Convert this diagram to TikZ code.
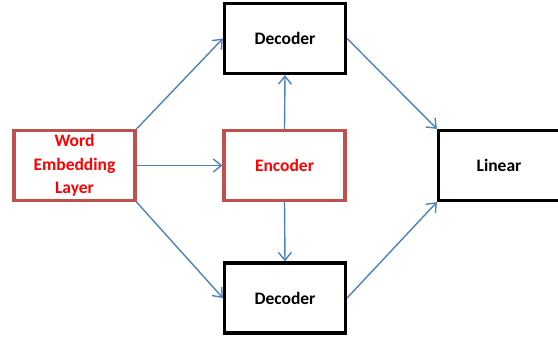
\documentclass[tikz,border=0pt]{standalone}
\usepackage{fontspec}
\setmainfont{Carlito}
\usepackage{tikz}
\usetikzlibrary{arrows.meta}

\definecolor{boxred}{RGB}{192,80,77}
\definecolor{arrowblue}{RGB}{79,129,189}

\begin{document}
\begin{tikzpicture}[x=1pt, y=-1pt,
  block/.style={draw, line width=3.2pt, minimum width=121pt, minimum height=70pt, inner sep=0pt, align=center, font=\fontsize{17.5}{23.5}\selectfont\bfseries},
  redblock/.style={block, draw=boxred, text=red},
  link/.style={arrowblue, line width=1.4pt, -{Straight Barb[length=8pt, width=13pt, line width=1.4pt]}}]
\useasboundingbox (0,0) rectangle (558,343);
%%%  nodes

% input nodes
\node [redblock] (emb) at (74.5, 165.5) {Word\\Embedding\\Layer};
\node [redblock] (enc) at (284.5, 165.5) {Encoder};

% decoder nodes
\node [block] (dectop) at (285, 38.5) {Decoder};
\node [block] (decbot) at (285, 298) {Decoder};

% output node
\node [block] (lin) at (499, 165.5) {Linear};

%%% edges

% embedding out
\draw [link] (emb.north east) to (dectop.west);
\draw [link] (emb.east) to (enc.west);
\draw [link] (emb.south east) to (decbot.west);

% encoder out
\draw [link] (enc.north) to (dectop.south);
\draw [link] (enc.south) to (decbot.north);

% decoders to linear
\draw [link] (dectop.east) to (lin.north west);
\draw [link] (decbot.east) to (lin.south west);
\end{tikzpicture}
\end{document}
